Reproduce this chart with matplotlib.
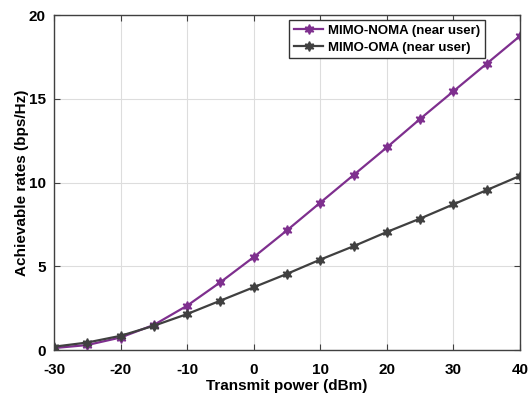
import numpy as np
import matplotlib.pyplot as plt

plt.rcParams['font.family'] = ['Liberation Sans', 'DejaVu Sans']
plt.rcParams['font.weight'] = 'bold'
plt.rcParams['axes.unicode_minus'] = False

power_dbm = [-30, -25, -20, -15, -10, -5, 0, 5, 10, 15, 20, 25, 30, 35, 40]
noma_near = [0.12, 0.3, 0.75, 1.5, 2.65, 4.05, 5.55, 7.15, 8.8, 10.45, 12.1, 13.8, 15.45, 17.1, 18.75]
oma_near = [0.2, 0.45, 0.85, 1.45, 2.15, 2.95, 3.75, 4.55, 5.4, 6.2, 7.05, 7.85, 8.7, 9.55, 10.4]

fig = plt.figure(figsize=(5.29, 3.96), dpi=100)
ax = fig.add_axes([0.102, 0.116, 0.881, 0.846])

hexagram = (6, 1, 0)
ax.plot(power_dbm, noma_near, color='#7E2F8E', marker=hexagram, markersize=7,
        linewidth=1.6, label='MIMO-NOMA (near user)')
ax.plot(power_dbm, oma_near, color='#404040', marker=hexagram, markersize=7,
        linewidth=1.6, label='MIMO-OMA (near user)')

ax.set_xlim(-30, 40)
ax.set_ylim(0, 20)
ax.set_xticks(np.arange(-30, 41, 10))
ax.set_yticks(np.arange(0, 21, 5))
ax.grid(True, color='#dddddd', linewidth=0.8)
ax.tick_params(direction='in', top=True, right=True, labelsize=11, length=4,
               color='#404040')
ax.tick_params(axis='x', pad=9)
ax.tick_params(axis='y', pad=6)
for s in ax.spines.values():
    s.set_color('#404040')
    s.set_linewidth(1.0)
for lbl in ax.get_xticklabels() + ax.get_yticklabels():
    lbl.set_fontweight('bold')

ax.set_xlabel('Transmit power (dBm)', fontsize=11, fontweight='bold', labelpad=2)
ax.set_ylabel('Achievable rates (bps/Hz)', fontsize=11, fontweight='bold')
ax.yaxis.set_label_coords(-0.053, 0.5)

leg = ax.legend(loc='upper right', bbox_to_anchor=(0.925, 0.985), fontsize=9.5,
                fancybox=False, framealpha=1, edgecolor='#333333',
                borderaxespad=0, handlelength=2.2, handletextpad=0.4,
                labelspacing=0.35, borderpad=0.35)
leg.get_frame().set_linewidth(1.0)

fig.savefig('out.png', dpi=100)
